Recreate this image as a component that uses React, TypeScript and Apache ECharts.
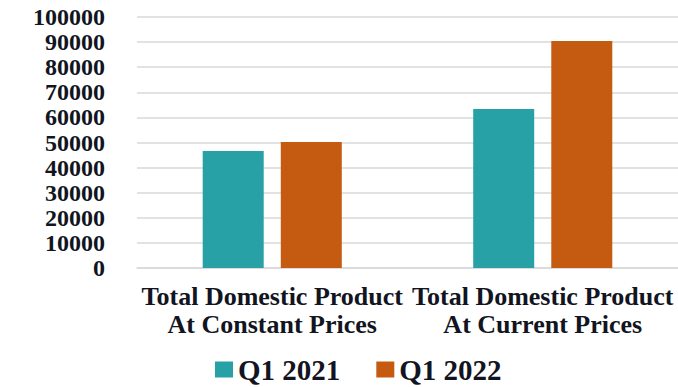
import React, { useEffect, useRef } from "react";
import * as echarts from "echarts";

const categories = [
  "Total Domestic Product\nAt Constant Prices",
  "Total Domestic Product\nAt Current Prices",
];
const seriesNames = ["Q1 2021", "Q1 2022"];
const q1_2021 = [46600, 63300];
const q1_2022 = [50200, 90400];
const yTicks = { min: 0, max: 100000, interval: 10000 };

const FONT = "'Liberation Serif', 'Times New Roman', serif";
const TEXT = "#121521";

export default function App() {
  const ref = useRef<HTMLDivElement>(null);
  useEffect(() => {
    if (!ref.current) return;
    const chart = echarts.init(ref.current, null, { renderer: "svg" });
    chart.setOption({
      animation: false,
      backgroundColor: "#ffffff",
      grid: { left: 137, right: 0, top: 17, bottom: 119, containLabel: false },
      legend: {
        data: seriesNames,
        top: 350,
        left: 210,
        padding: [5, 5, 0, 5],
        itemWidth: 18,
        itemHeight: 16,
        itemGap: 36,
        icon: "rect",
        textStyle: { fontFamily: FONT, fontWeight: "bold", fontSize: 29, color: TEXT },
      },
      xAxis: {
        type: "category",
        data: categories,
        axisLine: { show: true, lineStyle: { color: "#d9d9d9", width: 1.5 } },
        axisTick: { show: false },
        axisLabel: {
          interval: 0,
          margin: 14,
          fontFamily: FONT,
          fontWeight: "bold",
          fontSize: 26,
          lineHeight: 28,
          color: TEXT,
        },
      },
      yAxis: {
        type: "value",
        min: yTicks.min,
        max: yTicks.max,
        interval: yTicks.interval,
        axisLine: { show: false },
        axisTick: { show: false },
        splitLine: { lineStyle: { color: "#d9d9d9", width: 1.5 } },
        axisLabel: {
          margin: 32,
          showMinLabel: true,
          showMaxLabel: true,
          hideOverlap: false,
          formatter: (v: number) => String(v),
          fontFamily: FONT,
          fontWeight: "bold",
          fontSize: 24,
          lineHeight: 24,
          color: TEXT,
        },
      },
      series: [
        {
          name: seriesNames[0],
          type: "bar",
          data: q1_2021,
          barWidth: 61,
          barGap: "28%",
          itemStyle: { color: "#27a1a6" },
        },
        {
          name: seriesNames[1],
          type: "bar",
          data: q1_2022,
          barWidth: 61,
          itemStyle: { color: "#c55a11" },
        },
      ],
    });
    return () => chart.dispose();
  }, []);
  return <div ref={ref} style={{ width: 678, height: 387, position: "absolute", left: 0, top: 0 }} />;
}
